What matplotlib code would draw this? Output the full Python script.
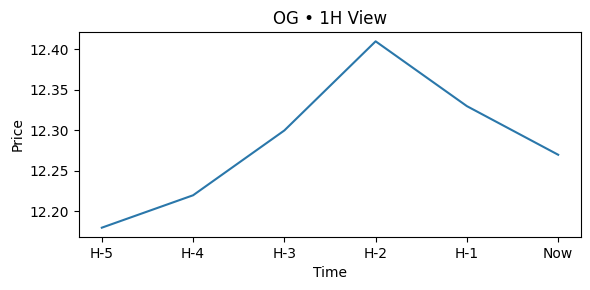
import matplotlib
matplotlib.use("Agg")
import matplotlib.pyplot as plt

labels = ['H-5', 'H-4', 'H-3', 'H-2', 'H-1', 'Now']
prices = [12.18, 12.22, 12.30, 12.41, 12.33, 12.27]

fig = plt.figure(figsize=(5.9, 2.9), dpi=100)
ax = fig.add_axes([79 / 590, 1 - 237 / 290, (581 - 79) / 590, (237 - 32) / 290])
ax.plot(labels, prices, color='#2a77aa')
ax.set_title('OG • 1H View')
ax.set_xlabel('Time')
ax.set_ylabel('Price')
fig.savefig('out.png')
